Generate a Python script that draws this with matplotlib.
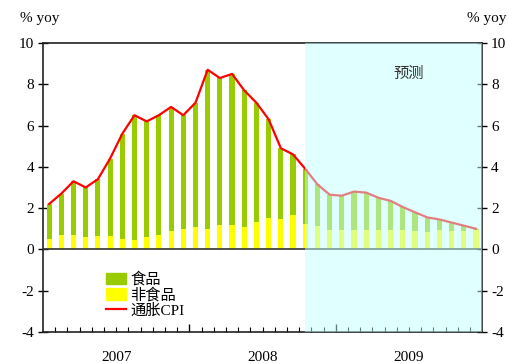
import matplotlib
matplotlib.use('Agg')
import matplotlib.pyplot as plt
import matplotlib.transforms as mtransforms
from matplotlib.patches import Patch
from matplotlib.lines import Line2D
import numpy as np

plt.rcParams['font.family'] = ['Liberation Serif', 'Noto Sans CJK SC']
plt.rcParams['font.size'] = 10
plt.rcParams['axes.unicode_minus'] = False

# monthly data Jan 2007 - Dec 2009 (from Nov 2008 on: forecast)
years = ['2007', '2008', '2009']
cpi = [2.2, 2.7, 3.3, 3.0, 3.4, 4.4, 5.6, 6.5, 6.2, 6.5, 6.9, 6.5,
       7.1, 8.7, 8.3, 8.5, 7.7, 7.1, 6.3, 4.9, 4.6, 3.9, 3.15, 2.65,
       2.6, 2.8, 2.75, 2.5, 2.35, 2.05, 1.8, 1.55, 1.45, 1.3, 1.15, 1.0]
non_food = [0.5, 0.7, 0.7, 0.6, 0.65, 0.65, 0.5, 0.45, 0.6, 0.7, 0.9, 1.0,
            1.1, 1.0, 1.2, 1.2, 1.1, 1.35, 1.5, 1.45, 1.65, 1.25, 1.15, 0.95,
            0.95, 0.95, 0.95, 0.95, 0.95, 0.95, 0.9, 0.85, 0.95, 0.9, 0.9, 0.95]
food = [1.7, 2.0, 2.6, 2.4, 2.75, 3.75, 5.1, 6.05, 5.6, 5.8, 6.0, 5.5,
        6.0, 7.7, 7.1, 7.3, 6.6, 5.75, 4.8, 3.45, 2.95, 2.65, 2.0, 1.7,
        1.65, 1.85, 1.8, 1.55, 1.4, 1.1, 0.9, 0.7, 0.5, 0.4, 0.25, 0.05]
forecast_start = 21  # Oct 2008 bar centre

x = np.arange(len(cpi))

fig = plt.figure(figsize=(5.1, 3.64), dpi=100)
ax = fig.add_axes([0.0843, 0.088, 0.861, 0.794])

ax.bar(x, non_food, width=0.42, color='#ffff00', zorder=2)
ax.bar(x, food, width=0.42, bottom=non_food, color='#99cc00', zorder=2)
ax.plot(x, cpi, color='#ff0000', lw=1.6, zorder=3)
ax.axhline(0, color='#333333', lw=1.2, zorder=4)

# forecast shading laid over the marks
ax.axvspan(forecast_start, len(cpi) - 0.5, color='#c2ffff', alpha=0.5, lw=0, zorder=5)
ax.text(29.5, 8.5, '预测', ha='center', va='center', fontsize=11, color='#333333', zorder=6)

ax.set_xlim(-0.5, len(cpi) - 0.5)
ax.set_ylim(-4, 10)
ax.set_yticks(range(-4, 11, 2))
ax.tick_params(axis='y', direction='inout', length=7, width=1, right=True, labelright=True,
               labelsize=11, pad=3)

ax.set_xticks([11.5, 23.5])
ax.set_xticklabels([])
ax.set_xticks(np.arange(0.5, len(cpi) - 1, 1), minor=True)
ax.tick_params(axis='x', which='major', direction='in', length=6, width=1)
ax.tick_params(axis='x', which='minor', direction='in', length=3.5, width=0.8)

trans = mtransforms.blended_transform_factory(ax.transData, ax.transAxes)
for i, yr in enumerate(years):
    ax.text(i * 12 + 5.5, -0.09, yr, transform=trans, ha='center', va='center', fontsize=11)

for sp in ax.spines.values():
    sp.set_color('#222222')
    sp.set_linewidth(1.2)

fig.text(0.04, 0.95, '% yoy', ha='left', va='center', fontsize=11)
fig.text(0.915, 0.95, '% yoy', ha='left', va='center', fontsize=11)

handles = [Patch(color='#99cc00'), Patch(color='#ffff00'),
           Line2D([], [], color='#ff0000', lw=1.6)]
ax.legend(handles, ['食品', '非食品', '通胀CPI'], loc='upper left',
          bbox_to_anchor=(0.143, 0.207), frameon=False, fontsize=11,
          handlelength=1.3, handleheight=0.8, handletextpad=0.3,
          labelspacing=0.05, borderpad=0, borderaxespad=0)

fig.savefig('out.png', dpi=100)
